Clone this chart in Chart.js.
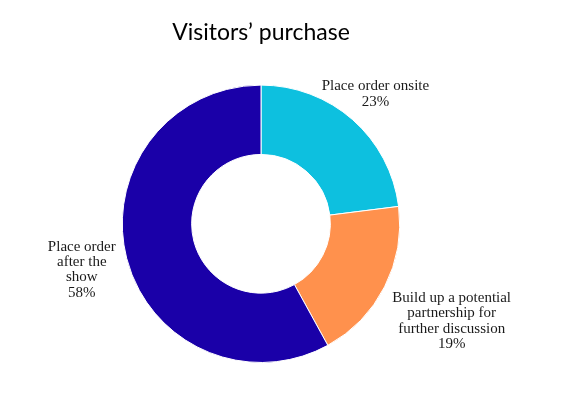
<!DOCTYPE html>
<html>
<head>
<meta charset="utf-8">
<script src="https://cdn.jsdelivr.net/npm/chart.js@4/dist/chart.umd.min.js"></script>
<style>
  html, body { margin: 0; padding: 0; background: #fff; }
  #wrap { width: 566px; height: 400px; position: relative; }
</style>
</head>
<body>
<div id="wrap"><canvas id="chart-donut"></canvas></div>
<script>
const categorias = ["Place order onsite", "Build up a potential partnership for further discussion", "Place order after the show"];
const porcentajes = [23, 19, 58];
const etiquetas = [
  ["Place order onsite", "23%"],
  ["Build up a potential", "partnership for", "further discussion", "19%"],
  ["Place order", "after the", "show", "58%"]
];
const colores = ["#0DC0DF", "#FF914D", "#1A00A8"];

// distancia del centro del texto al centro del anillo
const distancias = [173, 214, 185];

const etiquetasFuera = {
  id: "etiquetasFuera",
  afterDatasetsDraw(chart) {
    const ctx = chart.ctx;
    const arcos = chart.getDatasetMeta(0).data;
    ctx.save();
    ctx.font = "15px 'Liberation Serif', 'Times New Roman', serif";
    ctx.fillStyle = "#1a1a1a";
    ctx.textAlign = "center";
    ctx.textBaseline = "middle";
    arcos.forEach((arco, i) => {
      const medio = (arco.startAngle + arco.endAngle) / 2;
      const d = distancias[i];
      const cx = arco.x + Math.cos(medio) * d;
      const cy = arco.y + Math.sin(medio) * d;
      const lineas = etiquetas[i];
      const alto = 15.3;
      lineas.forEach((txt, j) => {
        ctx.fillText(txt, cx, cy + (j - (lineas.length - 1) / 2) * alto);
      });
    });
    ctx.restore();
  }
};

const ctx = document.getElementById("chart-donut").getContext("2d");
new Chart(ctx, {
  type: "doughnut",
  data: {
    labels: categorias,
    datasets: [{
      data: porcentajes,
      backgroundColor: colores,
      borderColor: "#ffffff",
      borderWidth: 1
    }]
  },
  options: {
    responsive: true,
    maintainAspectRatio: false,
    animation: false,
    cutout: "50%",
    layout: {
      padding: { top: 0, bottom: 37, left: 0, right: 44 }
    },
    plugins: {
      legend: { display: false },
      tooltip: { enabled: false },
      title: {
        display: true,
        text: "Visitors\u2019 purchase",
        color: "#000000",
        font: { size: 23, family: "Lato", weight: "normal", lineHeight: 1.2 },
        padding: { top: 19, bottom: 38 }
      }
    }
  },
  plugins: [etiquetasFuera]
});
</script>
</body>
</html>
